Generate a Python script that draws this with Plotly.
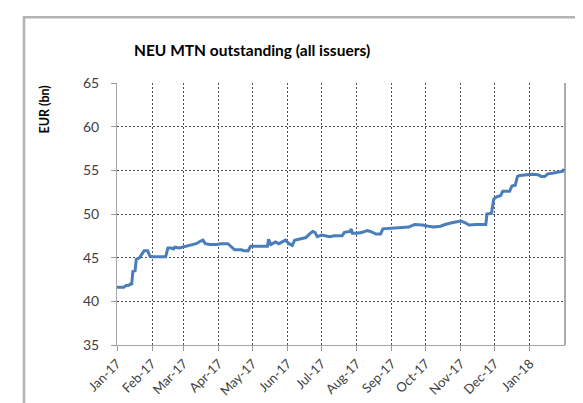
import datetime as dt
import plotly.graph_objects as go

# Day offsets from 2017-01-01 and NEU MTN outstanding (EUR bn)
day_offsets = [0, 6, 8, 10, 12, 13, 14, 16, 17, 20, 22, 24, 27, 29, 31, 43, 45, 48, 50, 51,
               55, 58, 62, 66, 70, 74, 76, 78, 82, 88, 92, 98, 101, 104, 110, 112, 116, 118,
               133, 134, 136, 140, 143, 146, 149, 152, 155, 157, 160, 164, 167, 170, 173, 175,
               177, 181, 184, 188, 192, 196, 199, 201, 206, 207, 208, 212, 217, 221, 224, 229,
               233, 235, 245, 253, 258, 263, 270, 275, 280, 286, 290, 296, 300, 304, 308, 311,
               318, 326, 327, 331, 333, 336, 339, 341, 347, 349, 352, 354, 356, 363, 367, 372,
               375, 378, 381, 386, 392, 394, 395]
outstanding = [41.6, 41.6, 41.8, 41.8, 42.0, 41.9, 43.4, 43.5, 44.8, 45.0, 45.4, 45.8, 45.8, 45.2,
               45.1, 45.1, 46.1, 46.1, 46.0, 46.2, 46.1, 46.2, 46.3, 46.5, 46.6, 46.9, 47.0, 46.6,
               46.5, 46.5, 46.6, 46.6, 46.2, 45.9, 45.9, 45.8, 45.8, 46.3, 46.3, 47.1, 46.5, 46.8,
               46.6, 46.8, 47.0, 46.6, 46.4, 47.0, 47.1, 47.2, 47.3, 47.7, 48.0, 47.9, 47.4, 47.6,
               47.5, 47.4, 47.5, 47.5, 47.5, 47.9, 48.0, 48.3, 47.8, 47.8, 47.9, 48.1, 48.0, 47.7,
               47.7, 48.3, 48.35, 48.4, 48.5, 48.8, 48.75, 48.6, 48.5, 48.6, 48.8, 49.0, 49.1, 49.2,
               49.0, 48.75, 48.8, 48.8, 50.0, 50.1, 51.7, 52.0, 52.1, 52.6, 52.6, 53.2, 53.3, 54.3,
               54.4, 54.5, 54.55, 54.5, 54.3, 54.3, 54.6, 54.7, 54.8, 54.9, 55.15]

start = dt.date(2017, 1, 1)
dates = [start + dt.timedelta(days=d) for d in day_offsets]

title_text = "NEU MTN outstanding (all issuers)"
y_title = "EUR (bn)"
y_ticks = [35, 40, 45, 50, 55, 60, 65]
month_ticks = [dt.date(2017, m, 1) for m in range(1, 13)] + [dt.date(2018, 1, 1)]

FONT = "Lato"

fig = go.Figure()
fig.add_trace(go.Scatter(x=dates, y=outstanding, mode="lines",
                         line=dict(color="#4a7ebb", width=3), showlegend=False))

fig.update_layout(
    width=583, height=403,
    margin=dict(l=109, r=26, t=75, b=66),
    paper_bgcolor="white", plot_bgcolor="white",
    font=dict(family=FONT, color="#404040"),
    annotations=[
        dict(text="<b>" + title_text + "</b>", xref="paper", yref="paper",
             x=(244 - 109) / 448, y=(337 - 43) / 261.5, xanchor="center", yanchor="middle",
             showarrow=False, font=dict(family=FONT, size=15.5, color="black")),
        dict(text="<b>" + y_title + "</b>", xref="paper", yref="paper",
             x=(37 - 109) / 448, y=(337 - 102) / 261.5, xanchor="center", yanchor="middle",
             textangle=-90, showarrow=False, font=dict(family=FONT, size=12.5, color="black")),
    ],
    shapes=[
        # outer chart frame
        dict(type="rect", xref="paper", yref="paper",
             x0=(16 - 109) / 448, x1=1.3, y0=-0.5, y1=(337 - 10) / 261.5,
             line=dict(color="#b3b3b3", width=2.5), layer="below"),
        # plot area right border
        dict(type="line", xref="paper", yref="paper", x0=1, x1=1, y0=0, y1=1,
             line=dict(color="#595959", width=1)),
    ],
)

fig.update_xaxes(
    type="date", range=[dt.date(2017, 1, 1), dt.date(2018, 2, 1)],
    tickvals=month_ticks, tickformat="%b-%y", tickangle=-45,
    tickfont=dict(family=FONT, size=13, color="#404040"),
    ticks="outside", ticklen=5, tickcolor="#999999",
    showline=True, linecolor="#a6a6a6", linewidth=1,
    showgrid=True, gridcolor="#505050", gridwidth=1, griddash="2px,2px",
    zeroline=False,
)
fig.update_yaxes(
    range=[35, 65], tickvals=y_ticks,
    tickfont=dict(family=FONT, size=14, color="#404040"),
    ticks="outside", ticklen=5, tickcolor="#999999", ticklabelstandoff=9,
    showline=True, linecolor="#a6a6a6", linewidth=1,
    showgrid=True, gridcolor="#505050", gridwidth=1, griddash="2px,2px",
    zeroline=False,
)

fig.write_html("out.html")
